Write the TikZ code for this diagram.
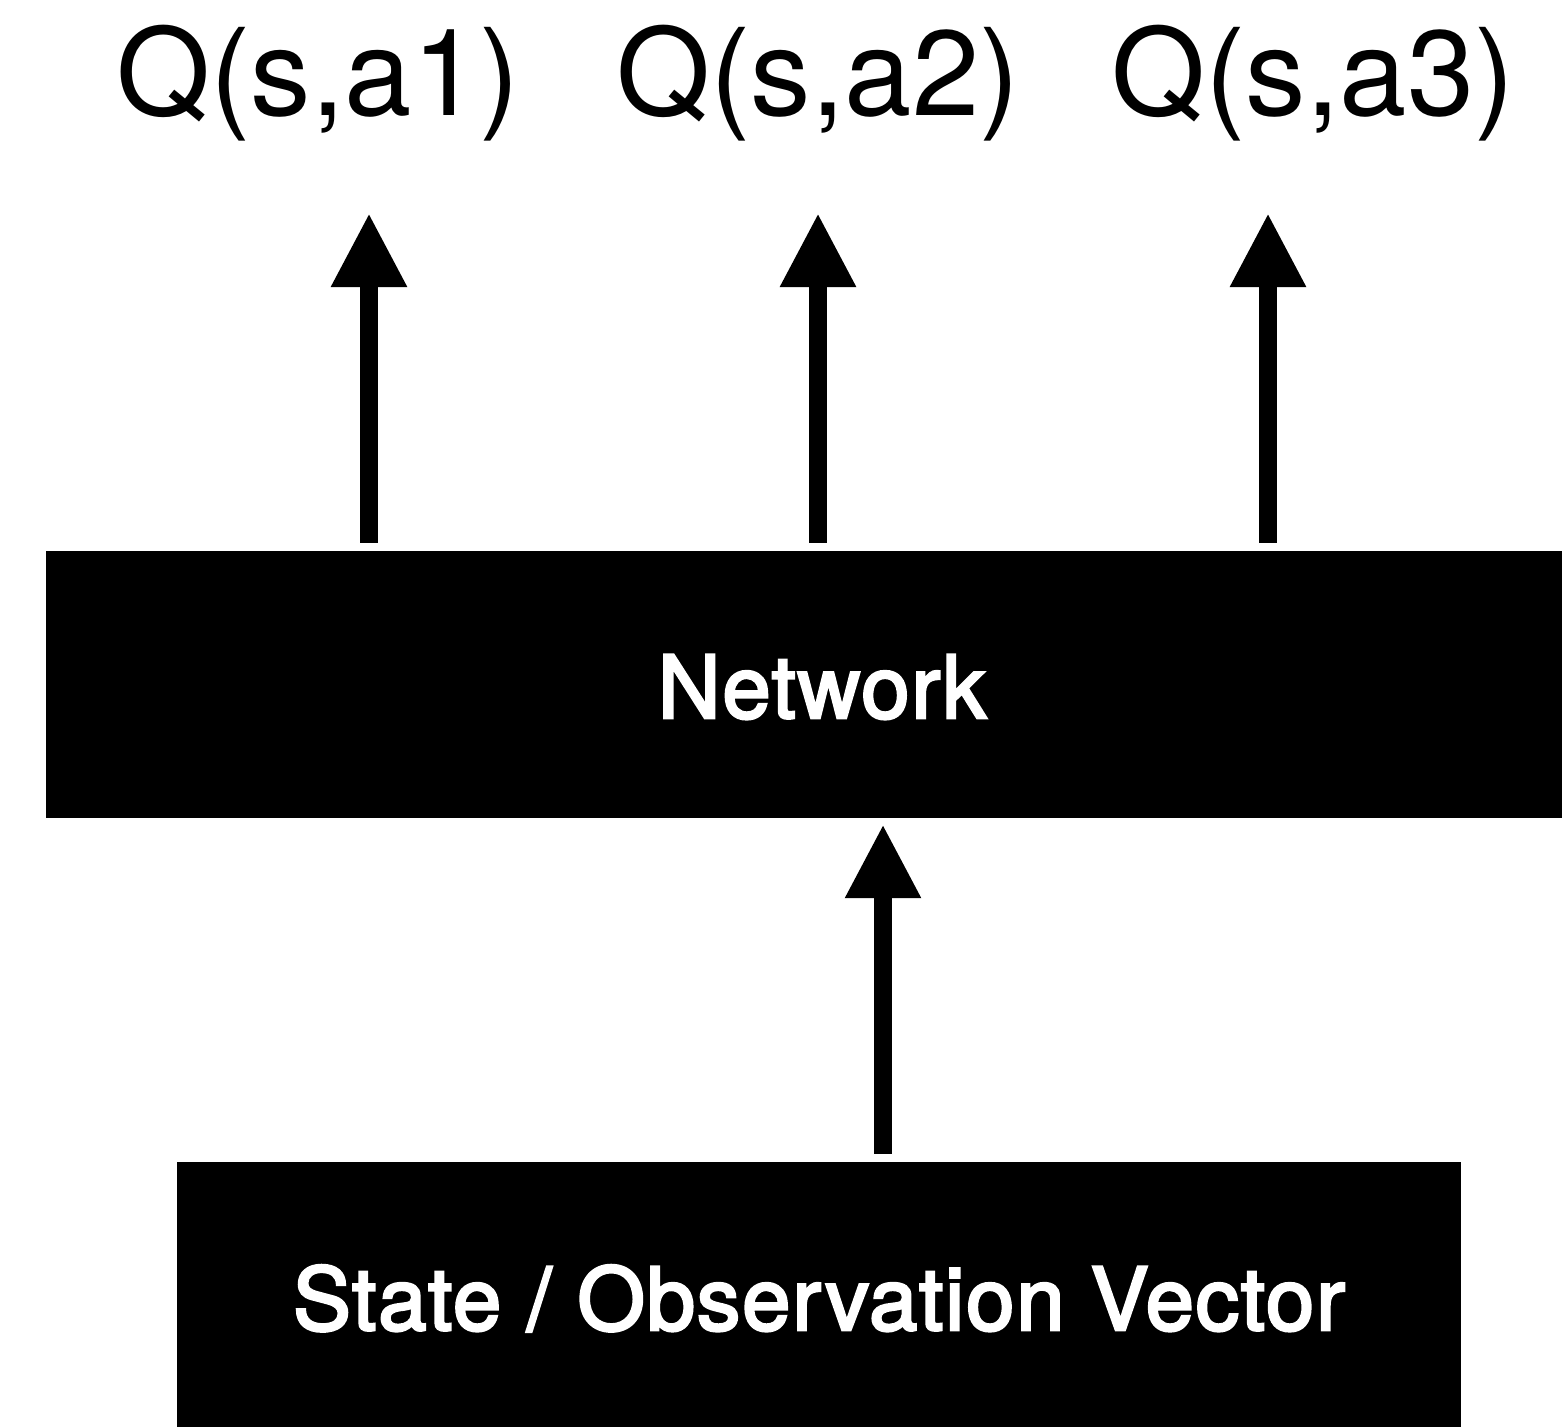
\documentclass[tikz,border=0pt]{standalone}
\usepackage{fontspec}
\setmainfont{TeX Gyre Heros}
\newfontfamily\medheros[FakeBold=3,LetterSpace=2]{TeX Gyre Heros}
\usetikzlibrary{arrows.meta}
\begin{document}
\begin{tikzpicture}[x=1pt,y=-1pt,
  blackbox/.style={fill=black,draw=none,inner sep=0pt},
  boxtext/.style={text=white,font=\medheros\fontsize{87}{100}\selectfont,inner sep=0pt,anchor=base},
  qlabel/.style={font=\fontsize{121}{130}\selectfont,inner sep=0pt,anchor=base},
  bigarrow/.style={line width=18pt,-{Triangle[length=74pt,width=71pt]}}]
\useasboundingbox (0,0) rectangle (1562,1427);
\node[blackbox,minimum width=1516pt,minimum height=267pt] (net) at (804,684.5) {};
\node[boxtext] (nettxt) at (822,718) {Network};
\node[blackbox,minimum width=1284pt,minimum height=265pt] (state) at (819,1294.5) {};
\node[boxtext] (statetxt) at (819,1330) {State / Observation Vector};
\node[qlabel] (q1) at (318,115) {Q(s,a1)};
\node[qlabel] (q2) at (818,115) {Q(s,a2)};
\node[qlabel] (q3) at (1313,115) {Q(s,a3)};
\coordinate (t1) at (369,213);
\coordinate (t2) at (818,213);
\coordinate (t3) at (1268,213);
\coordinate (t4) at (883,824);
\draw[bigarrow,shorten <=8pt] (net.north -| t1) -- (t1);
\draw[bigarrow,shorten <=8pt] (net.north -| t2) -- (t2);
\draw[bigarrow,shorten <=8pt] (net.north -| t3) -- (t3);
\draw[bigarrow,shorten <=8pt,shorten >=6pt] (state.north -| t4) -- (net.south -| t4);
\end{tikzpicture}
\end{document}
